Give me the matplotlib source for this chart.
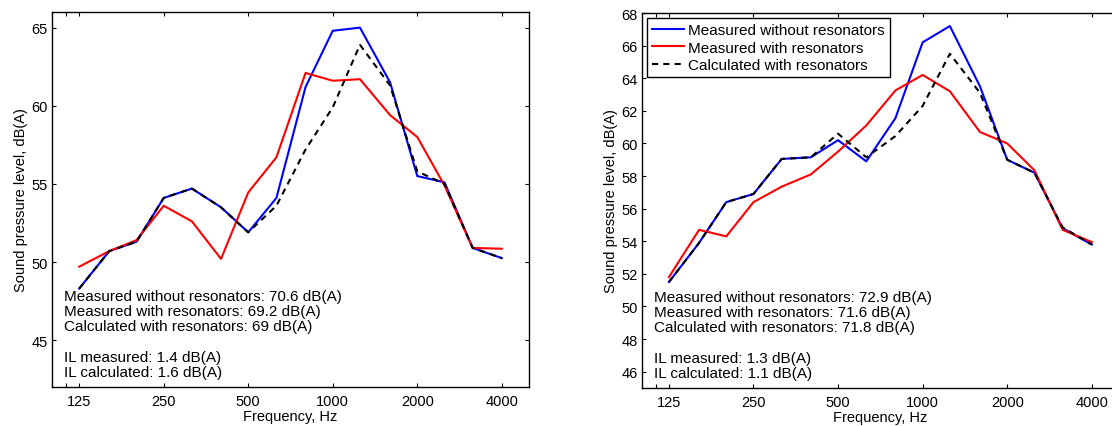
import numpy as np
import matplotlib
matplotlib.use("Agg")
import matplotlib.pyplot as plt
from matplotlib.ticker import FixedLocator, FixedFormatter, NullFormatter

plt.rcParams["font.family"] = ["Liberation Sans", "DejaVu Sans"]

# ---- data (1/3-octave band levels, dB(A)) ------------------------------------
freq = [125, 160, 200, 250, 315, 400, 500, 630, 800, 1000, 1250, 1600, 2000, 2500, 3150, 4000]

# left case
left_meas_without = [48.3, 50.7, 51.3, 54.1, 54.7, 53.5, 51.9, 54.1, 61.2, 64.8, 65.0, 61.5, 55.5, 55.1, 50.9, 50.25]
left_meas_with = [49.7, 50.7, 51.4, 53.6, 52.6, 50.2, 54.45, 56.7, 62.1, 61.6, 61.7, 59.4, 58.0, 54.9, 50.9, 50.85]
left_calc_with = [48.3, 50.7, 51.3, 54.1, 54.7, 53.5, 51.9, 53.6, 57.2, 59.9, 63.9, 61.3, 55.8, 55.0, 50.9, 50.25]
left_notes = ["Measured without resonators: 70.6 dB(A)",
              "Measured with resonators: 69.2 dB(A)",
              "Calculated with resonators: 69 dB(A)",
              "",
              "IL measured: 1.4 dB(A)",
              "IL calculated: 1.6 dB(A)"]

# right case
right_meas_without = [51.5, 53.9, 56.4, 56.9, 59.05, 59.15, 60.2, 58.9, 61.55, 66.2, 67.2, 63.5, 59.0, 58.2, 54.8, 53.8]
right_meas_with = [51.8, 54.7, 54.3, 56.4, 57.35, 58.1, 59.5, 61.1, 63.25, 64.2, 63.2, 60.7, 60.0, 58.35, 54.7, 53.95]
right_calc_with = [51.5, 53.9, 56.4, 56.9, 59.05, 59.15, 60.6, 59.15, 60.45, 62.3, 65.5, 63.1, 59.0, 58.2, 54.85, 53.8]
right_notes = ["Measured without resonators: 72.9 dB(A)",
               "Measured with resonators: 71.6 dB(A)",
               "Calculated with resonators: 71.8 dB(A)",
               "",
               "IL measured: 1.3 dB(A)",
               "IL calculated: 1.1 dB(A)"]

series_labels = ["Measured without resonators", "Measured with resonators",
                 "Calculated with resonators"]
xtick_vals = [125, 250, 500, 1000, 2000, 4000]


def style_axes(ax, ylim, yticks):
    ax.set_xscale("log")
    ax.set_xlim(100, 5000)
    ax.set_ylim(*ylim)
    ax.xaxis.set_major_locator(FixedLocator(xtick_vals))
    ax.xaxis.set_major_formatter(FixedFormatter([str(v) for v in xtick_vals]))
    ax.xaxis.set_minor_locator(FixedLocator([112]))
    ax.xaxis.set_minor_formatter(NullFormatter())
    ax.set_yticks(yticks)
    ax.tick_params(which="both", direction="in", top=True, right=True,
                   length=3, width=0.8, labelsize=10.5, color="black")
    ax.tick_params(axis="x", pad=5)
    ax.tick_params(axis="y", pad=3)
    for sp in ax.spines.values():
        sp.set_linewidth(1.0)
        sp.set_color("black")
    ax.set_xlabel("Frequency, Hz", fontsize=10.5)
    ax.set_ylabel("Sound pressure level, dB(A)", fontsize=10.5)
    ax.xaxis.set_label_coords(0.5, -0.058)
    ax.yaxis.set_label_coords(-0.05, 0.5)


fig = plt.figure(figsize=(11.12, 4.27), dpi=100)
ax1 = fig.add_axes([0.04676, 0.09133, 0.42896, 0.87822])
# right panel runs past the figure edge (cropped in the original figure)
ax2 = fig.add_axes([0.57707, 0.08899, 0.42923, 0.87822])

dash = (0, (3.0, 2.4))
for ax, a, b, c, notes in [(ax1, left_meas_without, left_meas_with, left_calc_with, left_notes),
                           (ax2, right_meas_without, right_meas_with, right_calc_with, right_notes)]:
    ax.plot(freq, a, color="blue", lw=1.5, label=series_labels[0])
    ax.plot(freq, b, color="red", lw=1.5, label=series_labels[1])
    ax.plot(freq, c, color="black", lw=1.5, ls=dash, label=series_labels[2])
    ax.text(0.025, 0.022, "\n".join(notes), transform=ax.transAxes,
            ha="left", va="bottom", fontsize=11, linespacing=1.1)

style_axes(ax1, (42, 66), np.arange(45, 66, 5))
style_axes(ax2, (45, 68), np.arange(46, 69, 2))
ax2.spines["right"].set_visible(False)
ax2.tick_params(which="both", right=False)

leg = ax2.legend(loc="upper left", fontsize=11, fancybox=False, framealpha=1,
                 edgecolor="black", borderaxespad=0.33, borderpad=0.35,
                 labelspacing=0.22, handlelength=2.1, handletextpad=0.25)
leg.get_frame().set_linewidth(1.0)

fig.savefig("out.png", dpi=100)
